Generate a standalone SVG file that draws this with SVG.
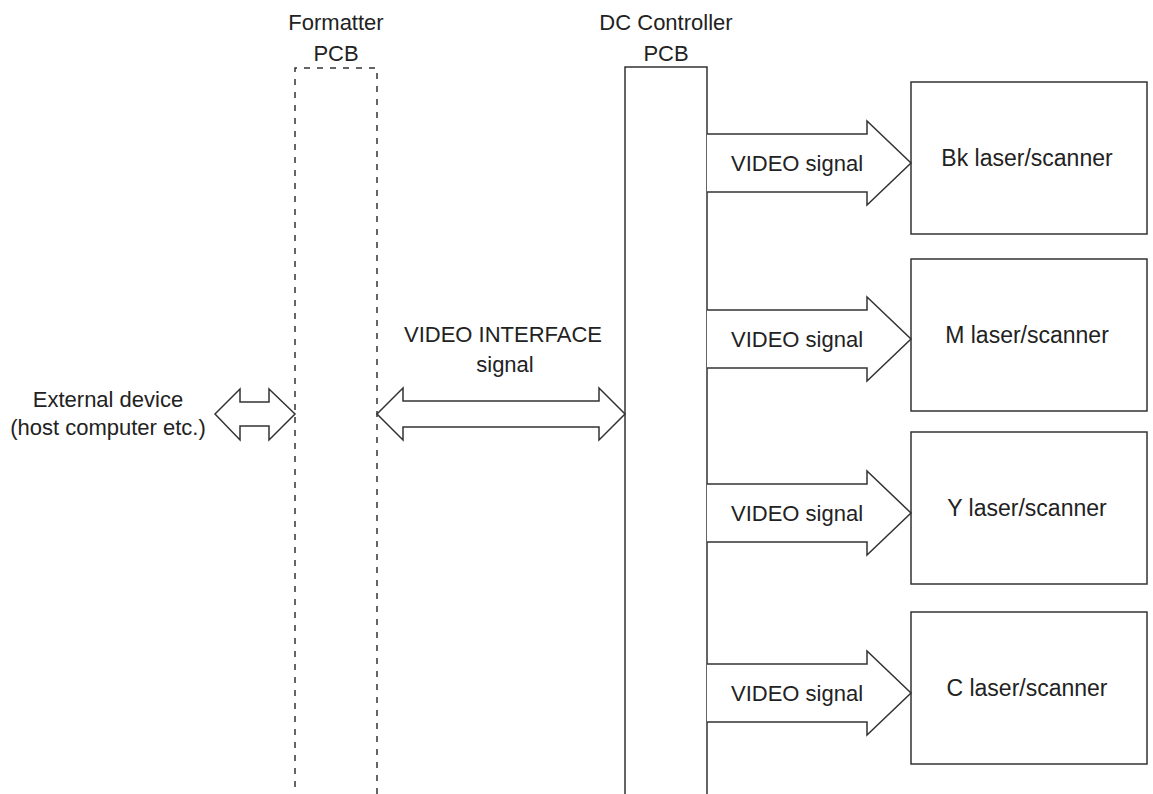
<svg xmlns="http://www.w3.org/2000/svg" width="1153" height="794" viewBox="0 0 1153 794">
<style>
.ln{fill:none;stroke:#333;stroke-width:1.5}
.dash{fill:none;stroke:#333;stroke-width:1.5;stroke-dasharray:6 7}
.ar{fill:#fff;stroke:#333;stroke-width:1.5;stroke-linejoin:miter}
.box{fill:#fff;stroke:#333;stroke-width:1.5}
text{font-family:"Liberation Sans",Arial,sans-serif;font-size:22px;fill:#222;text-anchor:middle}
.lbl{font-size:23px}
</style>
<rect width="1153" height="794" fill="#fff"/>
<g id="formatter">
<path class="dash" d="M295,800 V68 H377 V800"/>
<text x="336" y="30">Formatter</text>
<text x="336" y="61">PCB</text>
</g>
<g id="dc-controller">
<path class="ln" d="M625,800 V67 H707 V800"/>
<text x="666" y="30">DC Controller</text>
<text x="666" y="61">PCB</text>
</g>
<g id="external">
<text x="108" y="407">External device</text>
<text x="108" y="435">(host computer etc.)</text>
</g>
<g id="bk"><rect class="box" x="911" y="82" width="236" height="152"/><text class="lbl" x="1027" y="166">Bk laser/scanner</text></g>
<g id="m"><rect class="box" x="911" y="259" width="236" height="152"/><text class="lbl" x="1027" y="343">M laser/scanner</text></g>
<g id="y"><rect class="box" x="911" y="432" width="236" height="152"/><text class="lbl" x="1027" y="516">Y laser/scanner</text></g>
<g id="c"><rect class="box" x="911" y="612" width="236" height="152"/><text class="lbl" x="1027" y="696">C laser/scanner</text></g>
<g id="connectors">
<path class="ar" d="M215,414 L240,389 V402 H269 V389 L295,414 L269,440 V426 H240 V440 Z"/>
<path class="ar" d="M377,414 L403,388 V401 H599 V388 L625,414 L599,440 V427 H403 V440 Z"/>
<text x="503" y="342">VIDEO INTERFACE</text>
<text x="505" y="372">signal</text>
<path class="ar" d="M707,134 H867 V121 L911,163 L867,205 V192 H707"/>
<text x="797" y="171">VIDEO signal</text>
<path class="ar" d="M707,310 H867 V297 L911,339 L867,381 V368 H707"/>
<text x="797" y="347">VIDEO signal</text>
<path class="ar" d="M707,484 H867 V471 L911,513 L867,555 V542 H707"/>
<text x="797" y="521">VIDEO signal</text>
<path class="ar" d="M707,664 H867 V651 L911,693 L867,735 V722 H707"/>
<text x="797" y="701">VIDEO signal</text>
</g>
</svg>
